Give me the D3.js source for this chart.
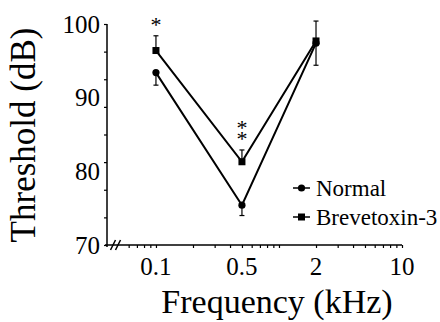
<!DOCTYPE html>
<html>
<head>
<meta charset="utf-8">
<script src="https://cdn.jsdelivr.net/npm/d3@7"></script>
<style>
  html, body { margin: 0; padding: 0; background: #fff; }
  svg { display: block; }
  svg text { font-family: "Liberation Serif", "Times New Roman", Times, serif !important; fill: #000; }
</style>
</head>
<body>
<svg id="chart" width="440" height="322"></svg>
<script>
// Auditory thresholds by stimulus frequency
const frequencies = [0.1, 0.5, 2];           // kHz
const normal      = [93.4, 75.4, 97.4];      // dB
const normalErr   = [1.7, 1.4, 3.0];
const brevetoxin  = [96.4, 81.3, 97.7];      // dB
const brevetoxinErr = [2.0, 1.6, 2.7];
const significance = ["*", "**", ""];

const xLabels = [0.1, 0.5, 2, 10];
const xTicks = [0.06, 0.07, 0.08, 0.09, 0.1, 0.2, 0.3, 0.4, 0.5, 0.6, 0.7, 0.8, 0.9,
                1, 2, 3, 4, 5, 6, 7, 8, 9, 10];
const yLabels = [70, 80, 90, 100];
const yTicks = d3.range(70, 100.01, 3.75);
const seriesNames = ["Normal", "Brevetoxin-3"];

const serif = '"Liberation Serif", "Times New Roman", Times, serif';
const svg = d3.select("#chart").attr("font-family", serif);

const x = d3.scaleLog().domain([0.04, 10]).range([107, 402]);
const y = d3.scaleLinear().domain([70, 100]).range([245, 24]);

// y axis
const yAxisG = svg.append("g").attr("transform", `translate(${x.range()[0]},0)`)
  .call(d3.axisLeft(y).tickValues(yTicks).tickSize(3).tickFormat(""));
yAxisG.select(".domain").attr("d", `M0,${y(100)}V${y(70) + 2}`).attr("stroke-width", 1.5);
yAxisG.selectAll(".tick line").attr("stroke-width", 1.2);

svg.append("g").selectAll("text").data(yLabels).join("text")
  .attr("x", x.range()[0] - 7)
  .attr("y", d => y(d))
  .attr("dy", "0.35em")
  .attr("text-anchor", "end")
  .attr("font-size", 25)
  .text(d => d);

// x axis
const xAxisG = svg.append("g").attr("transform", `translate(0,${y(70)})`)
  .call(d3.axisBottom(x).tickValues(xTicks).tickSize(3).tickFormat(""));
xAxisG.select(".domain").attr("d", `M${x.range()[0] - 2},0H${x.range()[1]}`).attr("stroke-width", 1.5);
xAxisG.selectAll(".tick line").attr("stroke-width", 1.2);

// axis break marks
const bx = x.range()[0];
[6, 11].forEach(off => {
  svg.append("line")
    .attr("x1", bx + off - 2.5).attr("y1", y(70) + 5)
    .attr("x2", bx + off + 2.5).attr("y2", y(70) - 5)
    .attr("stroke", "#000").attr("stroke-width", 1.5);
});

svg.append("g").selectAll("text").data(xLabels).join("text")
  .attr("x", d => x(d))
  .attr("y", 275)
  .attr("text-anchor", "middle")
  .attr("font-size", 25)
  .text(d => d);

// axis titles
svg.append("text")
  .attr("x", 277).attr("y", 313)
  .attr("text-anchor", "middle")
  .attr("font-size", 34)
  .text("Frequency (kHz)");

svg.append("text")
  .attr("transform", `translate(35,135) rotate(-90)`)
  .attr("text-anchor", "middle")
  .attr("font-size", 35)
  .text("Threshold (dB)");

const line = d3.line().x((d, i) => x(frequencies[i])).y(d => y(d));

// error bars: brevetoxin upward, normal downward
function errorBars(values, errs, dir) {
  const g = svg.append("g").attr("stroke", "#000").attr("stroke-width", 1.2);
  values.forEach((v, i) => {
    const cx = x(frequencies[i]);
    const end = y(v + dir * errs[i]);
    g.append("line").attr("x1", cx).attr("x2", cx).attr("y1", y(v)).attr("y2", end);
    g.append("line").attr("x1", cx - 2.5).attr("x2", cx + 2.5).attr("y1", end).attr("y2", end);
  });
}
errorBars(normal, normalErr, -1);
errorBars(brevetoxin, brevetoxinErr, 1);

svg.append("path").datum(normal).attr("d", line)
  .attr("fill", "none").attr("stroke", "#000").attr("stroke-width", 2);
svg.append("path").datum(brevetoxin).attr("d", line)
  .attr("fill", "none").attr("stroke", "#000").attr("stroke-width", 2);

svg.append("g").selectAll("circle").data(normal).join("circle")
  .attr("cx", (d, i) => x(frequencies[i]))
  .attr("cy", d => y(d))
  .attr("r", 3.6).attr("fill", "#000");

svg.append("g").selectAll("rect").data(brevetoxin).join("rect")
  .attr("x", (d, i) => x(frequencies[i]) - 3.5)
  .attr("y", d => y(d) - 3.5)
  .attr("width", 7).attr("height", 7).attr("fill", "#000");

// significance asterisks above the brevetoxin bars, stacked in one text
significance.forEach((s, i) => {
  if (!s) return;
  const top = y(brevetoxin[i] + brevetoxinErr[i]);
  const cx = x(frequencies[i]);
  const t = svg.append("text")
    .attr("x", cx)
    .attr("y", top - 4 - (s.length - 1) * 11)
    .attr("text-anchor", "middle")
    .attr("font-size", 22);
  s.split("").forEach((c, k) => {
    t.append("tspan").attr("x", cx).attr("dy", k === 0 ? 0 : 11).text(c);
  });
});

// legend
const legend = svg.append("g");
seriesNames.forEach((name, i) => {
  const ly = 188 + i * 29;
  legend.append("line").attr("x1", 293).attr("x2", 310).attr("y1", ly).attr("y2", ly)
    .attr("stroke", "#000").attr("stroke-width", 1.5);
  if (i === 0) {
    legend.append("circle").attr("cx", 301.5).attr("cy", ly).attr("r", 3.6).attr("fill", "#000");
  } else {
    legend.append("rect").attr("x", 298).attr("y", ly - 3.5).attr("width", 7).attr("height", 7).attr("fill", "#000");
  }
  legend.append("text").attr("x", 316).attr("y", ly).attr("dy", "0.35em")
    .attr("font-size", 23).text(name);
});
</script>
</body>
</html>
